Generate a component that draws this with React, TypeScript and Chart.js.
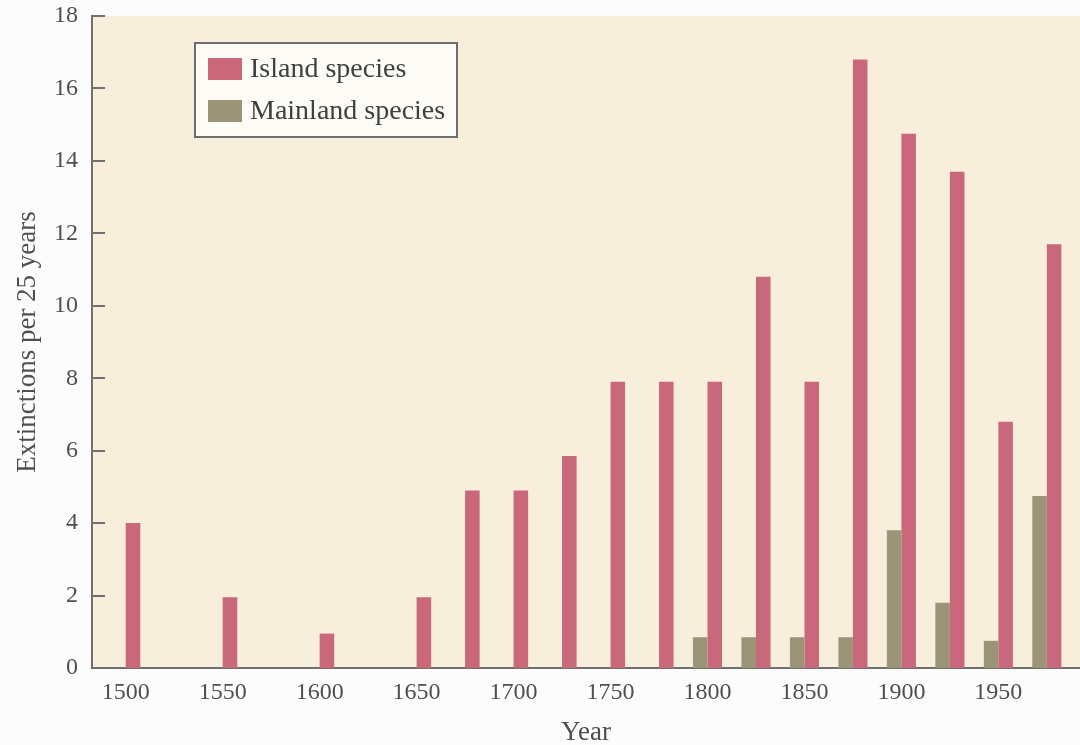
import React, { useEffect, useRef } from "react";
import { Chart, registerables } from "chart.js";

Chart.register(...registerables);

// ---- data ----
const years = [
  1500, 1525, 1550, 1575, 1600, 1625, 1650, 1675, 1700, 1725,
  1750, 1775, 1800, 1825, 1850, 1875, 1900, 1925, 1950, 1975,
];
const islandSpecies: (number | null)[] = [
  4.0, null, 1.95, null, 0.95, null, 1.95, 4.9, 4.9, 5.85,
  7.9, 7.9, 7.9, 10.8, 7.9, 16.8, 14.75, 13.7, 6.8, 11.7,
];
const mainlandSpecies: (number | null)[] = [
  null, null, null, null, null, null, null, null, null, null,
  null, null, 0.85, 0.85, 0.85, 0.85, 3.8, 1.8, 0.75, 4.75,
];
const xTickYears = [1500, 1550, 1600, 1650, 1700, 1750, 1800, 1850, 1900, 1950];
const yTickValues = [0, 2, 4, 6, 8, 10, 12, 14, 16, 18];
const seriesNames = ["Island species", "Mainland species"];
const xTitle = "Year";
const yTitle = "Extinctions per 25 years";

const ISLAND = "#c9687a";
const MAINLAND = "#9c9478";
const CREAM = "#f7eedc";
const AXIS = "#707070";
const TEXT = "#4f4f4f";
const FONT = "'Liberation Serif', 'Times New Roman', serif";

const backgroundPlugin = {
  id: "bg",
  beforeDraw(chart: any) {
    const { ctx, chartArea } = chart;
    ctx.save();
    ctx.fillStyle = "#fcfcfc";
    ctx.fillRect(0, 0, chart.width, chart.height);
    ctx.fillStyle = CREAM;
    ctx.fillRect(chartArea.left, chartArea.top, chartArea.right - chartArea.left, chartArea.bottom - chartArea.top);
    ctx.restore();
  },
};

const innerTicksPlugin = {
  id: "innerTicks",
  afterDraw(chart: any) {
    const { ctx, chartArea } = chart;
    const y = chart.scales.y;
    ctx.save();
    ctx.strokeStyle = AXIS;
    ctx.lineWidth = 2;
    y.ticks.forEach((t: any) => {
      const py = Math.round(y.getPixelForValue(t.value));
      ctx.beginPath();
      ctx.moveTo(chartArea.left, py);
      ctx.lineTo(chartArea.left + 13, py);
      ctx.stroke();
    });
    ctx.restore();
  },
};

const legendBoxPlugin = {
  id: "legendBox",
  afterDraw(chart: any) {
    const { ctx } = chart;
    const x0 = 195, y0 = 43, w = 262, h = 94;
    ctx.save();
    ctx.fillStyle = "#fdfbf5";
    ctx.fillRect(x0, y0, w, h);
    ctx.strokeStyle = "#6e6e6e";
    ctx.lineWidth = 2;
    ctx.strokeRect(x0, y0, w, h);
    const items = [
      { label: seriesNames[0], color: ISLAND },
      { label: seriesNames[1], color: MAINLAND },
    ];
    items.forEach((it, i) => {
      const cy = 69 + i * 42;
      ctx.fillStyle = it.color;
      ctx.fillRect(208, cy - 11, 34, 22);
      ctx.fillStyle = "#404040";
      ctx.font = `28px ${FONT}`;
      ctx.textBaseline = "middle";
      ctx.textAlign = "left";
      ctx.fillText(it.label, 250, cy + 1);
    });
    ctx.restore();
  },
};

export default function App() {
  const ref = useRef<HTMLCanvasElement | null>(null);

  useEffect(() => {
    if (!ref.current) return;
    const chart = new Chart(ref.current, {
      type: "bar",
      data: {
        datasets: [
          {
            label: seriesNames[0],
            data: years.map((yr, i) => ({ x: yr, y: islandSpecies[i] })),
            backgroundColor: ISLAND,
            order: 1,
            barPercentage: 1.0,
            categoryPercentage: 0.6,
          },
          {
            label: seriesNames[1],
            data: years.map((yr, i) => ({ x: yr, y: mainlandSpecies[i] })),
            backgroundColor: MAINLAND,
            order: 0,
            barPercentage: 1.0,
            categoryPercentage: 0.6,
          },
        ] as any,
      },
      options: {
        animation: false,
        responsive: false,
        maintainAspectRatio: false,
        layout: { padding: { top: 16, right: 0, left: 0, bottom: 0 } },
        plugins: {
          legend: { display: false },
          tooltip: { enabled: false },
        },
        scales: {
          x: {
            type: "linear",
            offset: false,
            min: 1482.6,
            max: 1992.1,
            afterBuildTicks: (scale: any) => {
              scale.ticks = xTickYears.map((v) => ({ value: v }));
            },
            afterFit: (scale: any) => {
              scale.height = 77;
              scale.paddingLeft = 0;
              scale.paddingRight = 0;
            },
            grid: { display: false, drawTicks: false },
            border: { display: true, color: AXIS, width: 2 },
            ticks: {
              padding: 10,
              color: TEXT,
              font: { family: FONT, size: 24 },
              autoSkip: false,
              maxRotation: 0,
              callback: (v: any) => String(v),
            },
            title: {
              display: true,
              text: xTitle,
              color: TEXT,
              font: { family: FONT, size: 27 },
              padding: { top: 0, bottom: -4 },
            },
          },
          y: {
            min: 0,
            max: 18,
            afterBuildTicks: (scale: any) => {
              scale.ticks = yTickValues.map((v) => ({ value: v }));
            },
            afterFit: (scale: any) => {
              scale.width = 92;
              scale.paddingTop = 0;
              scale.paddingBottom = 0;
            },
            grid: { display: false, drawTicks: false },
            border: { display: true, color: AXIS, width: 2 },
            ticks: {
              padding: 14,
              color: TEXT,
              font: { family: FONT, size: 24 },
            },
            title: {
              display: true,
              text: yTitle,
              color: TEXT,
              font: { family: FONT, size: 27 },
              padding: { top: 12, bottom: 0 },
            },
          },
        },
      } as any,
      plugins: [backgroundPlugin, innerTicksPlugin, legendBoxPlugin],
    });
    return () => chart.destroy();
  }, []);

  return (
    <div style={{ position: "fixed", left: 0, top: 0, width: 1080, height: 745, background: "#fcfcfc" }}>
      <canvas ref={ref} width={1080} height={745} style={{ display: "block", width: 1080, height: 745 }} />
    </div>
  );
}
